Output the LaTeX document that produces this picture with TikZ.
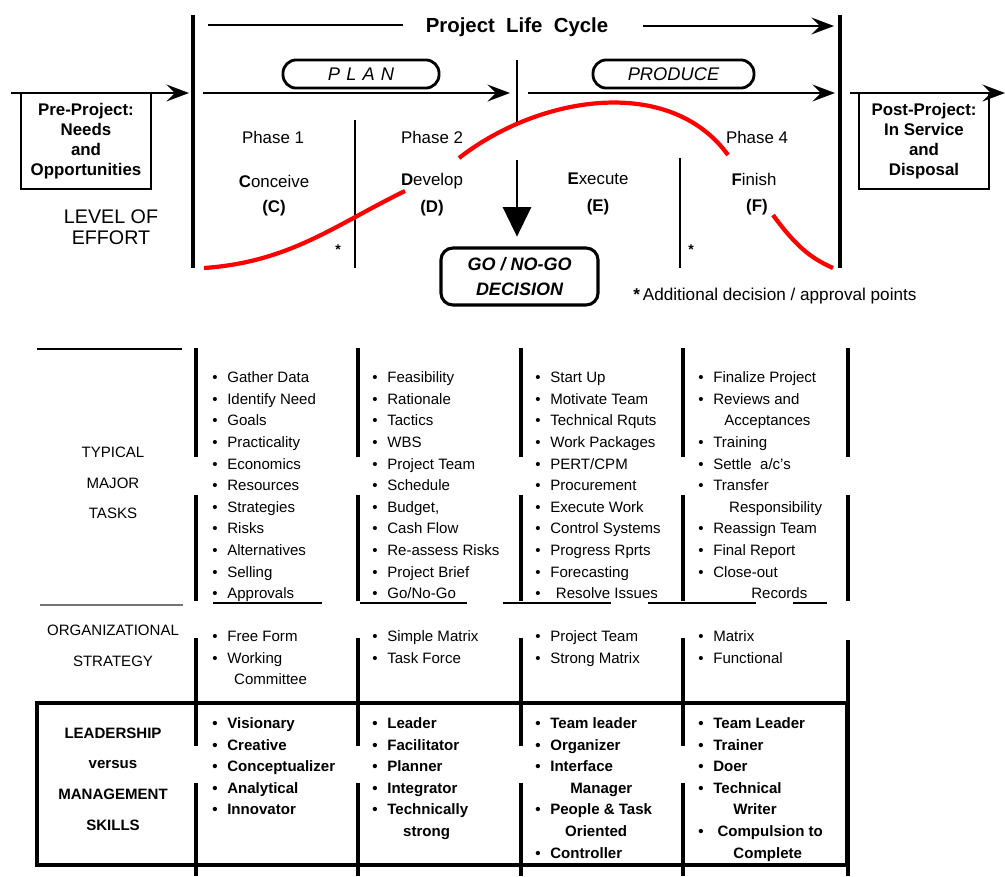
\documentclass[tikz,border=0pt]{standalone}
\usepackage{fontspec}
\setmainfont{Liberation Sans}
\usetikzlibrary{arrows.meta,positioning}
\newcommand{\itm}{\makebox[10.7pt][l]{\textbullet}}
\newcommand{\ind}[1]{\hspace*{#1pt}}
\tikzset{
  bar/.style={line width=2.2pt},
  divider/.style={line width=1pt},
  rule/.style={line width=1.5pt},
  flow/.style={line width=1.4pt,-{Stealth[length=16pt,width=12pt,inset=6pt]}},
  effort/.style={red,line width=3pt},
  stage/.style={draw,line width=2pt,rounded corners=9.5pt,minimum height=20pt,inner sep=0pt,font=\fontsize{13}{15}\selectfont\itshape},
  phase/.style={inner sep=0pt,font=\fontsize{12}{14}\selectfont},
  side/.style={draw,line width=1.2pt,minimum width=92.5pt,minimum height=68.3pt,align=center,inner sep=0pt,font=\fontsize{12}{14.2}\selectfont\bfseries},
  rowlabel/.style={align=center,inner sep=0pt,font=\fontsize{10.7}{21.8}\selectfont},
  task/.style={anchor=west,inner sep=0pt,text height=7.7pt,text depth=0pt,font=\fontsize{10.7}{12}\selectfont},
  skill/.style={task,font=\fontsize{10.7}{12}\selectfont\bfseries},
}
\begin{document}
\begin{tikzpicture}[x=0.025cm,y=-0.025cm]
  \useasboundingbox (0,0) rectangle (1005,876);
  % life cycle frame
  \draw[bar] (193,15) -- (193,268);
  \draw[bar] (840,15) -- (840,268);
  \node[inner sep=0pt,font=\fontsize{14.5}{16}\selectfont\bfseries] (plc) at (517,27) {Project\ \ Life\ \ Cycle};
  \draw[line width=1.4pt] (208,25) -- (403,25);
  \draw[flow] (643,26) -- (834,26);
  \node[stage,minimum width=111pt] (plan) at (361,74) {P\,\,L\,\,A\,\,N};
  \node[stage,minimum width=114.5pt] (produce) at (673.5,74) {PRODUCE};
  \draw[flow] (203,93) -- (510,93);
  \draw[flow] (528,93) -- (835,93);
  % pre and post project
  \node[side] (pre) at (86,141) {Pre-Project:\\Needs\\and\\Opportunities};
  \draw[flow] (11,93) -- (189,93);
  \node[side] (post) at (924,141) {Post-Project:\\In Service\\and\\Disposal};
  \draw[flow] (850,93) -- (1005,93);
  \node[inner sep=0pt,align=center,font=\fontsize{14}{15}\selectfont] (loe) at (111,227) {LEVEL OF\\EFFORT};
  % phases
  \draw[divider] (355,120) -- (355,268);
  \draw[divider] (680,158) -- (680,268);
  \node[phase] (ph1) at (273,137) {Phase 1};
  \node[phase] (cc) at (274,181) {\textbf{C}onceive};
  \node[phase,font=\fontsize{12}{14}\selectfont\bfseries] at (274,208) {(C)};
  \node[phase] (ph2) at (432,137) {Phase 2};
  \node[phase] (dd) at (432,181) {\textbf{D}evelop};
  \node[phase,font=\fontsize{12}{14}\selectfont\bfseries] at (432,208) {(D)};
  \node[phase] (ee) at (598,179) {\textbf{E}xecute};
  \node[phase,font=\fontsize{12}{14}\selectfont\bfseries] at (598,207) {(E)};
  \node[phase] (ph4) at (757,137) {Phase 4};
  \node[phase] (ff) at (754,179) {\textbf{F}inish};
  \node[phase,font=\fontsize{12}{14}\selectfont\bfseries] at (757,207) {(F)};
  \node[inner sep=0pt,font=\fontsize{10}{12}\selectfont\bfseries] (ast1) at (338,250) {*};
  \node[inner sep=0pt,font=\fontsize{10}{12}\selectfont\bfseries] (ast2) at (691,250) {*};
  \node[anchor=west,inner sep=0pt,font=\fontsize{12.2}{14}\selectfont] (note) at (633,296) {\textbf{*}\,Additional decision / approval points};
  % go / no-go
  \draw[line width=1.4pt] (517,60) -- (517,125);
  \node[draw,line width=2.2pt,rounded corners=8.5pt,minimum width=111.7pt,minimum height=40.5pt,inner sep=0pt,align=center,
        font=\fontsize{12.8}{17.8}\selectfont\bfseries\itshape] (go) at (519.5,276.5) {GO / NO-GO\\DECISION};
  \draw[line width=1.6pt,-{Triangle[length=21pt,width=20pt]},shorten >=7pt] (517,160) -- (go.north -| 517,0);
  % level of effort curve
  \draw[effort] (204,268) .. controls (290,262) and (335,225) .. (405,191);
  \draw[effort] (459,158) .. controls (540,95) and (670,75) .. (728,155);
  \draw[effort] (773,215) .. controls (795,245) and (810,258) .. (833,268);
  % table rules
  \draw[rule] (37,349) -- (182,349);
  \draw[line width=2pt,black!55] (40,605) -- (183,605);
  \foreach \x in {196,358,521,683,848} {
    \draw[bar] (\x,348) -- (\x,457);
    \draw[bar] (\x,495) -- (\x,601);
  }
  \foreach \a/\b in {213/322,360/467,503/611,648/756,793/827}
    \draw[rule] (\a,603) -- (\b,603);
  \foreach \x in {196,358,521,683} {
    \draw[bar] (\x,638) -- (\x,746);
    \draw[bar] (\x,783) -- (\x,876);
  }
  \draw[bar] (848,640) -- (848,876);
  \draw[line width=2.2pt] (37,703) rectangle (847,865);
  % row labels
  \node[rowlabel] (tasks) at (113,483) {TYPICAL\\MAJOR\\TASKS};
  \node[rowlabel] (org) at (113,645.5) {ORGANIZATIONAL\\STRATEGY};
  \node[rowlabel,font=\fontsize{10.7}{21.8}\selectfont\bfseries] (lead) at (113,779) {LEADERSHIP\\versus\\MANAGEMENT\\SKILLS};
  % typical major tasks
  \foreach \t [count=\i from 0] in {\itm Gather Data,\itm Identify Need,\itm Goals,\itm Practicality,\itm Economics,\itm Resources,\itm Strategies,\itm Risks,\itm Alternatives,\itm Selling,\itm Approvals}
    \node[task] (tc-\i) at (212,{377+21.65*\i}) {\t};
  \foreach \t [count=\i from 0] in {\itm Feasibility,\itm Rationale,\itm Tactics,\itm WBS,\itm Project Team,\itm Schedule,{\itm Budget,},\itm Cash Flow,\itm Re-assess Risks,\itm Project Brief,\itm Go/No-Go}
    \node[task] (td-\i) at (372,{377+21.65*\i}) {\t};
  \foreach \t [count=\i from 0] in {\itm Start Up,\itm Motivate Team,\itm Technical Rquts,\itm Work Packages,\itm PERT/CPM,\itm Procurement,\itm Execute Work,\itm Control Systems,\itm Progress Rprts,\itm Forecasting,\itm\ind{4}Resolve Issues}
    \node[task] (te-\i) at (535,{377+21.65*\i}) {\t};
  \foreach \t [count=\i from 0] in {\itm Finalize Project,\itm Reviews and,\ind{18.5}Acceptances,\itm Training,\itm Settle\ \ a/c's,\itm Transfer,\ind{22}Responsibility,\itm Reassign Team,\itm Final Report,\itm Close-out,\ind{37.7}Records}
    \node[task] (tf-\i) at (698,{377+21.65*\i}) {\t};
  % organizational strategy
  \foreach \t [count=\i from 0] in {\itm Free Form,\itm Working,\ind{15.6}Committee}
    \node[task] (oc-\i) at (212,{636+21.65*\i}) {\t};
  \foreach \t [count=\i from 0] in {\itm Simple Matrix,\itm Task Force}
    \node[task] (od-\i) at (372,{636+21.65*\i}) {\t};
  \foreach \t [count=\i from 0] in {\itm Project Team,\itm Strong Matrix}
    \node[task] (oe-\i) at (535,{636+21.65*\i}) {\t};
  \foreach \t [count=\i from 0] in {\itm Matrix,\itm Functional}
    \node[task] (of-\i) at (698,{636+21.65*\i}) {\t};
  % leadership versus management skills
  \foreach \t [count=\i from 0] in {\itm Visionary,\itm Creative,\itm Conceptualizer,\itm Analytical,\itm Innovator}
    \node[skill] (sc-\i) at (212,{723+21.6*\i}) {\t};
  \foreach \t [count=\i from 0] in {\itm Leader,\itm Facilitator,\itm Planner,\itm Integrator,\itm Technically,\ind{22}strong}
    \node[skill] (sd-\i) at (372,{723+21.6*\i}) {\t};
  \foreach \t [count=\i from 0] in {\itm Team leader,\itm Organizer,\itm Interface,\ind{25}Manager,\itm People \& Task,\ind{21.3}Oriented,\itm Controller}
    \node[skill] (se-\i) at (535,{723+21.6*\i}) {\t};
  \foreach \t [count=\i from 0] in {\itm Team Leader,\itm Trainer,\itm Doer,\itm Technical,\ind{25}Writer,\itm\ind{3}Compulsion to,\ind{25}Complete}
    \node[skill] (sf-\i) at (698,{723+21.6*\i}) {\t};
\end{tikzpicture}
\end{document}
